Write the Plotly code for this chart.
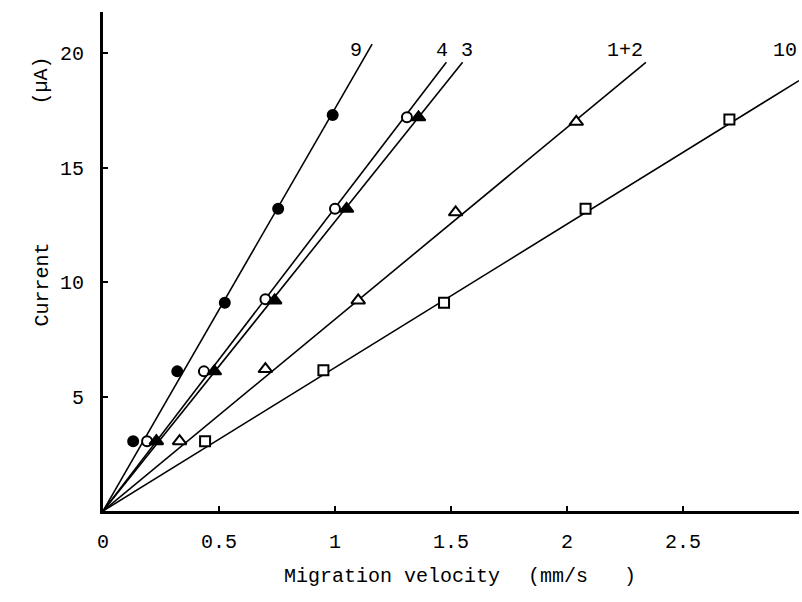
import plotly.graph_objects as go

# ---- data ----
vel_9 = [0.13, 0.32, 0.525, 0.755, 0.99]
cur_9 = [3.05, 6.1, 9.1, 13.2, 17.3]
vel_4 = [0.19, 0.435, 0.70, 1.00, 1.31]
cur_4 = [3.05, 6.1, 9.25, 13.2, 17.2]
vel_3 = [0.23, 0.48, 0.74, 1.05, 1.36]
cur_3 = [3.05, 6.1, 9.2, 13.2, 17.2]
vel_12 = [0.33, 0.70, 1.10, 1.52, 2.04]
cur_12 = [3.05, 6.2, 9.2, 13.05, 17.0]
vel_10 = [0.44, 0.95, 1.47, 2.08, 2.70]
cur_10 = [3.05, 6.15, 9.1, 13.2, 17.1]

# fitted lines: start at origin, end points
line_x_9 = [0, 1.16];  line_y_9 = [0, 20.4]
line_x_4 = [0, 1.48];  line_y_4 = [0, 19.6]
line_x_3 = [0, 1.55];  line_y_3 = [0, 19.6]
line_x_12 = [0, 2.34]; line_y_12 = [0, 19.6]
line_x_10 = [0, 3.0];  line_y_10 = [0, 18.8]

series_labels = ["9", "4", "3", "1+2", "10"]
label_x = [1.09, 1.46, 1.57, 2.25, 2.94]
label_y = [20.1, 20.1, 20.1, 20.1, 20.1]

x_tickvals = [0, 0.5, 1, 1.5, 2, 2.5]
x_ticktext = ["0", "0.5", "1", "1.5", "2", "2.5"]
y_tickvals = [5, 10, 15, 20]
y_ticktext = ["5", "10", "15", "20"]

FONT = "Liberation Mono"
fig = go.Figure()

for lx, ly in [(line_x_9, line_y_9), (line_x_4, line_y_4), (line_x_3, line_y_3),
               (line_x_12, line_y_12), (line_x_10, line_y_10)]:
    fig.add_trace(go.Scatter(x=lx, y=ly, mode="lines",
                             line=dict(color="black", width=1.6),
                             showlegend=False, hoverinfo="skip"))

marker_specs = [
    (vel_9, cur_9, "circle", "black"),
    (vel_4, cur_4, "circle", "white"),
    (vel_3, cur_3, "triangle-up", "black"),
    (vel_12, cur_12, "triangle-up", "white"),
    (vel_10, cur_10, "square", "white"),
]
for vx, cy, sym, fill in marker_specs:
    fig.add_trace(go.Scatter(
        x=vx, y=cy, mode="markers",
        marker=dict(symbol=sym, size=10 if sym != "triangle-up" else 12,
                    color=fill, line=dict(color="black", width=2)),
        showlegend=False))

for t, xx, yy in zip(series_labels, label_x, label_y):
    fig.add_annotation(x=xx, y=yy, xref="x", yref="y", text=t, showarrow=False,
                       font=dict(family=FONT, size=20, color="black"))

L, R, T, B = 103, 3, 12, 91
W, H = 802, 602
pw, ph = W - L - R, H - T - B

def px(xp):
    return (xp - L) / pw

def py(yp):
    return (H - B - yp) / ph

fig.add_annotation(x=px(28), y=py(285), xref="paper", yref="paper", text="Current",
                   textangle=-90, showarrow=False, font=dict(family=FONT, size=20, color="black"))
fig.add_annotation(x=px(28), y=py(55), xref="paper", yref="paper", text="(µA)",
                   textangle=-90, showarrow=False, font=dict(family=FONT, size=20, color="black"))
fig.add_annotation(x=px(392), y=py(590), xref="paper", yref="paper", text="Migration velocity",
                   showarrow=False, font=dict(family=FONT, size=20, color="black"))
fig.add_annotation(x=px(638), y=py(590), xref="paper", yref="paper", text="(mm/s&nbsp;&nbsp;&nbsp;)",
                   showarrow=False, font=dict(family=FONT, size=20, color="black"))

fig.update_layout(
    width=W, height=H,
    margin=dict(l=L, r=R, t=T, b=B, pad=0),
    plot_bgcolor="white", paper_bgcolor="white",
    font=dict(family=FONT, size=20, color="black"),
    xaxis=dict(range=[0, 3.0], tickvals=x_tickvals, ticktext=x_ticktext,
               ticks="inside", ticklen=5, tickwidth=1.5, tickcolor="black",
               showline=True, linewidth=3, linecolor="black",
               showgrid=False, zeroline=False, ticklabelstandoff=10),
    yaxis=dict(range=[0, 21.8], tickvals=y_tickvals, ticktext=y_ticktext,
               ticks="inside", ticklen=5, tickwidth=1.5, tickcolor="black",
               showline=True, linewidth=3, linecolor="black",
               showgrid=False, zeroline=False, ticklabelstandoff=12),
)

fig.write_html("out.html")
